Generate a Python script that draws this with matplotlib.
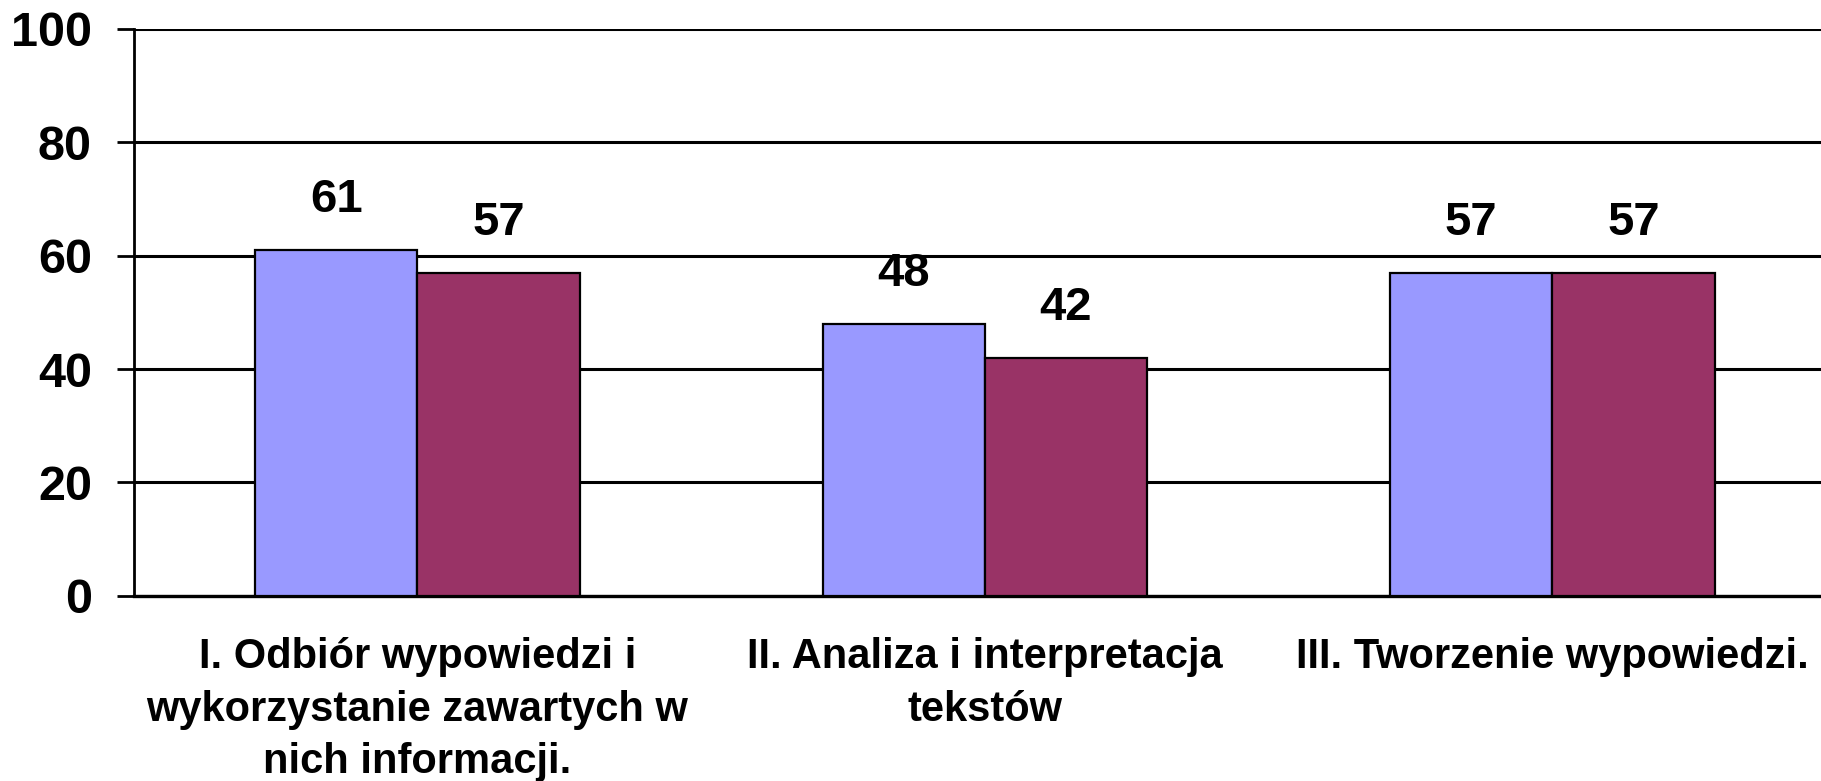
import matplotlib
matplotlib.use("Agg")
import matplotlib.pyplot as plt
import numpy as np

plt.rcParams['font.family'] = ['Liberation Sans', 'DejaVu Sans']

categories = ["I. Odbiór wypowiedzi i\nwykorzystanie zawartych w\nnich informacji.",
              "II. Analiza i interpretacja\ntekstów",
              "III. Tworzenie wypowiedzi."]
series_a = [61, 48, 57]
series_b = [57, 42, 57]
yticks = [0, 20, 40, 60, 80, 100]

W, H = 1821, 781
fig = plt.figure(figsize=(W / 100, H / 100), dpi=100)
left, right, top, bottom = 133.6, 1836, 29, 595.8
ax = fig.add_axes([left / W, (H - bottom) / H, (right - left) / W, (bottom - top) / H])

x = np.arange(len(categories))
bw = 0.286
ax.bar(x - bw / 2, series_a, width=bw, color='#9999FF', edgecolor='black', linewidth=1.6, zorder=3)
ax.bar(x + bw / 2, series_b, width=bw, color='#993366', edgecolor='black', linewidth=1.6, zorder=3)

for xi, v in zip(x - bw / 2, series_a):
    ax.annotate(str(v), (xi, v), xytext=(0, 20), textcoords='offset points',
                ha='center', va='bottom', fontsize=34, fontweight='bold', zorder=4)
for xi, v in zip(x + bw / 2, series_b):
    ax.annotate(str(v), (xi, v), xytext=(0, 20), textcoords='offset points',
                ha='center', va='bottom', fontsize=34, fontweight='bold', zorder=4)

ax.set_xlim(-0.5, 2.5)
ax.set_ylim(0, 100)
ax.set_yticks(yticks)
ax.set_yticklabels([str(t) for t in yticks], fontsize=35, fontweight='bold')
ax.tick_params(axis='y', length=12, width=2, direction='out', pad=18)
ax.set_xticks(x)
ax.set_xticklabels(categories, fontsize=30, fontweight='bold', linespacing=1.4)
ax.tick_params(axis='x', length=0, pad=30)

ax.yaxis.grid(True, color='black', linewidth=2.2, zorder=0)
ax.set_axisbelow(True)
for s in ['top', 'right']:
    ax.spines[s].set_visible(False)
ax.spines['left'].set_linewidth(2)
ax.spines['bottom'].set_linewidth(2.4)

fig.savefig('out.png', dpi=100)
